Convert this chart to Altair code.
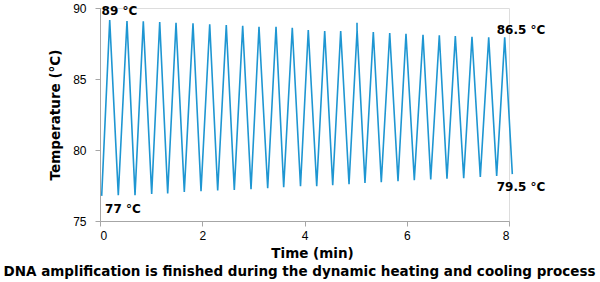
import altair as alt
import pandas as pd

# Trough (start/end included) and peak readings
t_trough = [0.033, 0.358, 0.685, 1.011, 1.324, 1.649, 1.976, 2.302, 2.627, 2.954,
            3.280, 3.593, 3.922, 4.239, 4.552, 4.871, 5.183, 5.502, 5.829, 6.148,
            6.469, 6.787, 7.114, 7.439, 7.759, 8.065]
T_trough = [76.77, 76.82, 76.82, 76.91, 76.94, 77.05, 77.10, 77.15, 77.19, 77.24,
            77.31, 77.38, 77.45, 77.45, 77.52, 77.59, 77.68, 77.73, 77.80, 77.87,
            77.92, 77.97, 78.01, 78.11, 78.18, 78.30]
t_peak = [0.190, 0.528, 0.847, 1.168, 1.487, 1.819, 2.146, 2.470, 2.791, 3.110,
          3.443, 3.761, 4.074, 4.395, 4.708, 5.027, 5.346, 5.667, 5.985, 6.318,
          6.637, 6.950, 7.276, 7.603, 7.916]
T_peak = [89.15, 89.08, 89.06, 89.01, 88.96, 88.92, 88.85, 88.80, 88.75, 88.68,
          88.68, 88.61, 88.45, 88.38, 88.38, 88.35, 88.31, 88.24, 88.19, 88.12,
          88.08, 88.03, 87.98, 87.93, 87.93]
# small thin spike on top of the 16th peak
spike_t = [5.027, 5.029, 5.031]
spike_T = [88.96, 88.35, 88.30]

ann_text = ["89 °C", "77 °C", "86.5 °C", "79.5 °C"]
ann_t = [0.03, 0.10, 7.76, 7.76]
ann_T = [89.82, 75.88, 88.45, 77.38]

rows = []
for i in range(len(t_trough)):
    rows.append((t_trough[i], T_trough[i]))
    if i < len(t_peak):
        rows.append((t_peak[i], T_peak[i]))
        if i == 15:
            for a, b in zip(spike_t, spike_T):
                rows.append((a, b))
df = pd.DataFrame(rows, columns=["time", "temp"])
df["order"] = range(len(df))

ann = pd.DataFrame({"label": ann_text, "time": ann_t, "temp": ann_T})

x_scale = alt.Scale(domain=[0, 8], nice=False, zero=False)
y_scale = alt.Scale(domain=[75, 90], nice=False, zero=False)

line = alt.Chart(df).mark_line(color="#1E96D2", strokeWidth=1.6, clip=False).encode(
    x=alt.X("time:Q", scale=x_scale,
            axis=alt.Axis(title="Time (min)", values=[0, 2, 4, 6, 8], grid=False,
                          domainColor="#A6A6A6", tickColor="#A6A6A6", tickSize=5,
                          labelFont="Liberation Sans", labelFontSize=12, labelColor="#000",
                          labelPadding=4, titleFont="DejaVu Sans", titleFontSize=13.5,
                          titleFontWeight="bold", titleColor="#000", titlePadding=5,
                          titleX=212)),
    y=alt.Y("temp:Q", scale=y_scale,
            axis=alt.Axis(title="Temperature (°C)", values=[75, 80, 85, 90], grid=False,
                          domainColor="#A6A6A6", tickColor="#A6A6A6", tickSize=5,
                          labelFont="Liberation Sans", labelFontSize=12, labelColor="#000",
                          labelPadding=9, titleFont="DejaVu Sans", titleFontSize=13.5,
                          titleFontWeight="bold", titleColor="#000", titlePadding=10)),
    order="order:Q",
)

text = alt.Chart(ann).mark_text(
    align="left", baseline="middle", font="DejaVu Sans", fontSize=12,
    fontWeight="bold", color="#000").encode(
    x=alt.X("time:Q", scale=x_scale), y=alt.Y("temp:Q", scale=y_scale), text="label:N")

chart = alt.layer(line, text).properties(
    width=409, height=213,
    autosize=alt.AutoSizeParams(type="none"),
    padding={"left": 100, "top": 8, "right": 91, "bottom": 61},
    title=alt.TitleParams(
        "DNA amplification is finished during the dynamic heating and cooling process",
        orient="bottom", anchor="middle", font="DejaVu Sans", fontSize=13.5,
        fontWeight="bold", color="#000", dx=-5, offset=5),
).configure_view(stroke=None).configure(background="white")

chart.save("out.html", embed_options={"renderer": "svg", "actions": False})
